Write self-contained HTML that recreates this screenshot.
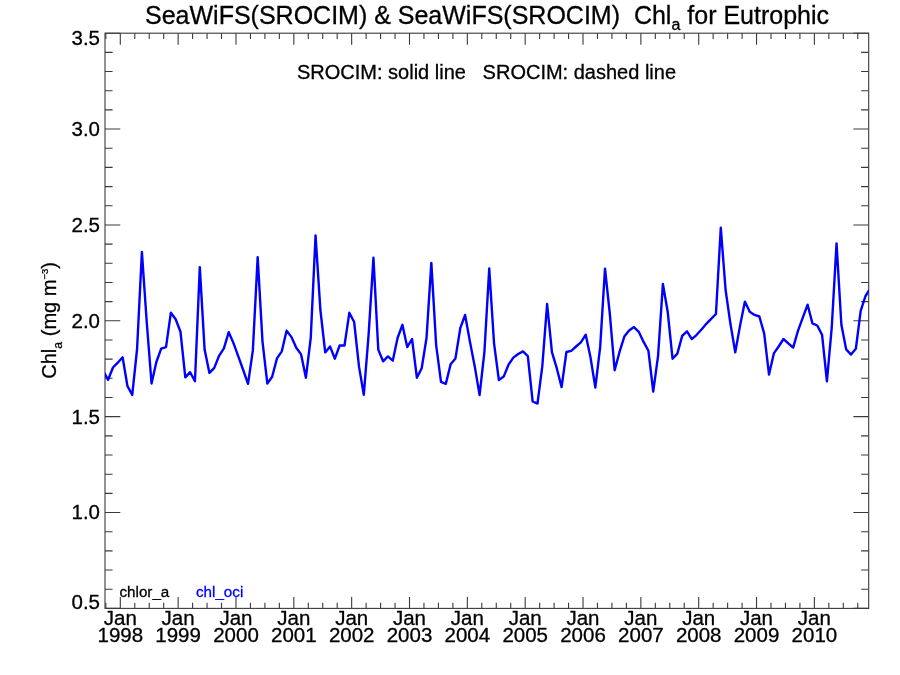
<!DOCTYPE html>
<html><head><meta charset="utf-8"><style>
html,body{margin:0;padding:0;background:#fff;width:900px;height:675px;overflow:hidden}
svg{display:block;will-change:transform}
text{stroke:#000} text.b{stroke:#00f;fill:#00f}
</style></head><body>
<svg width="900" height="675" viewBox="0 0 900 675">
<rect width="900" height="675" fill="#fff"/>
<rect x="105.0" y="33.2" width="763.70" height="575.20" fill="none" stroke="#3a3a3a" stroke-width="1.1"/>
<path d="M105.0,608.40h15.3M868.7,608.40h-15.3M105.0,589.23h7.6M868.7,589.23h-7.6M105.0,570.05h7.6M868.7,570.05h-7.6M105.0,550.88h7.6M868.7,550.88h-7.6M105.0,531.71h7.6M868.7,531.71h-7.6M105.0,512.53h15.3M868.7,512.53h-15.3M105.0,493.36h7.6M868.7,493.36h-7.6M105.0,474.19h7.6M868.7,474.19h-7.6M105.0,455.01h7.6M868.7,455.01h-7.6M105.0,435.84h7.6M868.7,435.84h-7.6M105.0,416.67h15.3M868.7,416.67h-15.3M105.0,397.49h7.6M868.7,397.49h-7.6M105.0,378.32h7.6M868.7,378.32h-7.6M105.0,359.15h7.6M868.7,359.15h-7.6M105.0,339.97h7.6M868.7,339.97h-7.6M105.0,320.80h15.3M868.7,320.80h-15.3M105.0,301.63h7.6M868.7,301.63h-7.6M105.0,282.45h7.6M868.7,282.45h-7.6M105.0,263.28h7.6M868.7,263.28h-7.6M105.0,244.11h7.6M868.7,244.11h-7.6M105.0,224.93h15.3M868.7,224.93h-15.3M105.0,205.76h7.6M868.7,205.76h-7.6M105.0,186.59h7.6M868.7,186.59h-7.6M105.0,167.41h7.6M868.7,167.41h-7.6M105.0,148.24h7.6M868.7,148.24h-7.6M105.0,129.07h15.3M868.7,129.07h-15.3M105.0,109.89h7.6M868.7,109.89h-7.6M105.0,90.72h7.6M868.7,90.72h-7.6M105.0,71.55h7.6M868.7,71.55h-7.6M105.0,52.37h7.6M868.7,52.37h-7.6M105.0,33.20h15.3M868.7,33.20h-15.3M105.84,608.4v-5.75M105.84,33.2v5.75M120.30,608.4v-11.5M120.30,33.2v11.5M134.76,608.4v-5.75M134.76,33.2v5.75M149.22,608.4v-5.75M149.22,33.2v5.75M163.68,608.4v-5.75M163.68,33.2v5.75M178.14,608.4v-11.5M178.14,33.2v11.5M192.60,608.4v-5.75M192.60,33.2v5.75M207.06,608.4v-5.75M207.06,33.2v5.75M221.52,608.4v-5.75M221.52,33.2v5.75M235.98,608.4v-11.5M235.98,33.2v11.5M250.44,608.4v-5.75M250.44,33.2v5.75M264.90,608.4v-5.75M264.90,33.2v5.75M279.36,608.4v-5.75M279.36,33.2v5.75M293.82,608.4v-11.5M293.82,33.2v11.5M308.28,608.4v-5.75M308.28,33.2v5.75M322.74,608.4v-5.75M322.74,33.2v5.75M337.20,608.4v-5.75M337.20,33.2v5.75M351.66,608.4v-11.5M351.66,33.2v11.5M366.12,608.4v-5.75M366.12,33.2v5.75M380.58,608.4v-5.75M380.58,33.2v5.75M395.04,608.4v-5.75M395.04,33.2v5.75M409.50,608.4v-11.5M409.50,33.2v11.5M423.96,608.4v-5.75M423.96,33.2v5.75M438.42,608.4v-5.75M438.42,33.2v5.75M452.88,608.4v-5.75M452.88,33.2v5.75M467.34,608.4v-11.5M467.34,33.2v11.5M481.80,608.4v-5.75M481.80,33.2v5.75M496.26,608.4v-5.75M496.26,33.2v5.75M510.72,608.4v-5.75M510.72,33.2v5.75M525.18,608.4v-11.5M525.18,33.2v11.5M539.64,608.4v-5.75M539.64,33.2v5.75M554.10,608.4v-5.75M554.10,33.2v5.75M568.56,608.4v-5.75M568.56,33.2v5.75M583.02,608.4v-11.5M583.02,33.2v11.5M597.48,608.4v-5.75M597.48,33.2v5.75M611.94,608.4v-5.75M611.94,33.2v5.75M626.40,608.4v-5.75M626.40,33.2v5.75M640.86,608.4v-11.5M640.86,33.2v11.5M655.32,608.4v-5.75M655.32,33.2v5.75M669.78,608.4v-5.75M669.78,33.2v5.75M684.24,608.4v-5.75M684.24,33.2v5.75M698.70,608.4v-11.5M698.70,33.2v11.5M713.16,608.4v-5.75M713.16,33.2v5.75M727.62,608.4v-5.75M727.62,33.2v5.75M742.08,608.4v-5.75M742.08,33.2v5.75M756.54,608.4v-11.5M756.54,33.2v11.5M771.00,608.4v-5.75M771.00,33.2v5.75M785.46,608.4v-5.75M785.46,33.2v5.75M799.92,608.4v-5.75M799.92,33.2v5.75M814.38,608.4v-11.5M814.38,33.2v11.5M828.84,608.4v-5.75M828.84,33.2v5.75M843.30,608.4v-5.75M843.30,33.2v5.75M857.76,608.4v-5.75M857.76,33.2v5.75" fill="none" stroke="#3a3a3a" stroke-width="1.1"/>
<clipPath id="c"><rect x="105.0" y="33.2" width="763.70" height="575.20"/></clipPath>
<polyline clip-path="url(#c)" points="103.31,371.30 108.13,379.80 112.95,367.50 117.78,362.70 122.60,357.30 127.43,386.00 132.25,394.90 137.07,349.00 141.90,252.00 146.72,322.00 151.55,383.50 156.37,362.00 161.19,348.70 166.02,347.20 170.84,312.80 175.67,319.30 180.49,331.80 185.31,377.30 190.14,372.20 194.96,381.20 199.79,267.10 204.61,349.60 209.43,372.90 214.26,367.90 219.08,355.80 223.91,348.30 228.73,332.20 233.55,343.30 238.38,356.70 243.20,370.00 248.03,383.80 252.85,350.40 257.67,257.10 262.50,341.60 267.32,383.50 272.15,376.80 276.97,358.40 281.79,351.30 286.62,330.60 291.44,337.10 296.27,347.80 301.09,354.40 305.91,377.70 310.74,338.00 315.56,235.40 320.39,310.00 325.21,352.40 330.03,346.40 334.86,358.70 339.68,345.50 344.51,345.50 349.33,312.80 354.15,322.00 358.98,366.40 363.80,394.70 368.63,334.40 373.45,257.80 378.27,349.60 383.10,361.30 387.92,356.40 392.75,360.70 397.57,338.00 402.39,324.80 407.22,347.10 412.04,339.00 416.87,377.70 421.69,368.20 426.51,338.00 431.34,262.90 436.16,345.10 440.99,381.90 445.81,383.90 450.63,364.30 455.46,358.40 460.28,328.20 465.11,315.00 469.93,341.60 474.75,366.40 479.58,395.10 484.40,352.20 489.23,268.50 494.05,343.30 498.87,380.00 503.70,376.60 508.52,364.70 513.35,357.60 518.17,354.00 522.99,351.40 527.82,356.10 532.64,401.50 537.47,403.60 542.29,366.40 547.11,304.00 551.94,352.20 556.76,368.20 561.59,387.10 566.41,352.00 571.23,350.80 576.06,346.50 580.88,342.40 585.71,334.70 590.53,357.60 595.35,387.60 600.18,346.90 605.00,268.70 609.83,314.00 614.65,370.20 619.47,352.20 624.30,336.60 629.12,330.50 633.95,327.10 638.77,331.80 643.59,341.90 648.42,350.80 653.24,391.50 658.07,355.80 662.89,284.00 667.71,311.80 672.54,358.70 677.36,353.60 682.19,335.90 687.01,331.30 691.83,339.10 696.66,334.80 701.48,329.50 706.31,323.80 711.13,318.80 715.95,314.00 720.78,227.70 725.60,290.00 730.43,323.80 735.25,352.40 740.07,325.60 744.90,301.60 749.72,311.70 754.55,314.90 759.37,316.50 764.19,333.60 769.02,374.60 773.84,353.40 778.67,346.50 783.49,339.00 788.31,343.30 793.14,347.60 797.96,330.90 802.79,317.60 807.61,304.70 812.43,323.40 817.26,325.50 822.08,334.90 826.91,381.40 831.73,327.70 836.55,243.40 841.38,324.80 846.20,349.40 851.03,354.60 855.85,348.80 860.67,310.80 865.50,296.00 870.32,288.50" fill="none" stroke="#0000ff" stroke-width="2.4" stroke-linejoin="round"/>
<text x="100" y="608.7" font-family="'Liberation Sans', sans-serif" stroke-width="0.3" font-size="20.5" text-anchor="end">0.5</text>
<text x="100" y="519.3" font-family="'Liberation Sans', sans-serif" stroke-width="0.3" font-size="20.5" text-anchor="end">1.0</text>
<text x="100" y="423.5" font-family="'Liberation Sans', sans-serif" stroke-width="0.3" font-size="20.5" text-anchor="end">1.5</text>
<text x="100" y="327.6" font-family="'Liberation Sans', sans-serif" stroke-width="0.3" font-size="20.5" text-anchor="end">2.0</text>
<text x="100" y="231.7" font-family="'Liberation Sans', sans-serif" stroke-width="0.3" font-size="20.5" text-anchor="end">2.5</text>
<text x="100" y="135.9" font-family="'Liberation Sans', sans-serif" stroke-width="0.3" font-size="20.5" text-anchor="end">3.0</text>
<text x="100" y="45.0" font-family="'Liberation Sans', sans-serif" stroke-width="0.3" font-size="20.5" text-anchor="end">3.5</text>
<text x="120.3" y="624.5" font-family="'Liberation Sans', sans-serif" stroke-width="0.3" font-size="20.5" text-anchor="middle">Jan</text>
<text x="120.3" y="641.5" font-family="'Liberation Sans', sans-serif" stroke-width="0.3" font-size="20.5" text-anchor="middle">1998</text>
<text x="178.1" y="624.5" font-family="'Liberation Sans', sans-serif" stroke-width="0.3" font-size="20.5" text-anchor="middle">Jan</text>
<text x="178.1" y="641.5" font-family="'Liberation Sans', sans-serif" stroke-width="0.3" font-size="20.5" text-anchor="middle">1999</text>
<text x="236.0" y="624.5" font-family="'Liberation Sans', sans-serif" stroke-width="0.3" font-size="20.5" text-anchor="middle">Jan</text>
<text x="236.0" y="641.5" font-family="'Liberation Sans', sans-serif" stroke-width="0.3" font-size="20.5" text-anchor="middle">2000</text>
<text x="293.8" y="624.5" font-family="'Liberation Sans', sans-serif" stroke-width="0.3" font-size="20.5" text-anchor="middle">Jan</text>
<text x="293.8" y="641.5" font-family="'Liberation Sans', sans-serif" stroke-width="0.3" font-size="20.5" text-anchor="middle">2001</text>
<text x="351.7" y="624.5" font-family="'Liberation Sans', sans-serif" stroke-width="0.3" font-size="20.5" text-anchor="middle">Jan</text>
<text x="351.7" y="641.5" font-family="'Liberation Sans', sans-serif" stroke-width="0.3" font-size="20.5" text-anchor="middle">2002</text>
<text x="409.5" y="624.5" font-family="'Liberation Sans', sans-serif" stroke-width="0.3" font-size="20.5" text-anchor="middle">Jan</text>
<text x="409.5" y="641.5" font-family="'Liberation Sans', sans-serif" stroke-width="0.3" font-size="20.5" text-anchor="middle">2003</text>
<text x="467.3" y="624.5" font-family="'Liberation Sans', sans-serif" stroke-width="0.3" font-size="20.5" text-anchor="middle">Jan</text>
<text x="467.3" y="641.5" font-family="'Liberation Sans', sans-serif" stroke-width="0.3" font-size="20.5" text-anchor="middle">2004</text>
<text x="525.2" y="624.5" font-family="'Liberation Sans', sans-serif" stroke-width="0.3" font-size="20.5" text-anchor="middle">Jan</text>
<text x="525.2" y="641.5" font-family="'Liberation Sans', sans-serif" stroke-width="0.3" font-size="20.5" text-anchor="middle">2005</text>
<text x="583.0" y="624.5" font-family="'Liberation Sans', sans-serif" stroke-width="0.3" font-size="20.5" text-anchor="middle">Jan</text>
<text x="583.0" y="641.5" font-family="'Liberation Sans', sans-serif" stroke-width="0.3" font-size="20.5" text-anchor="middle">2006</text>
<text x="640.9" y="624.5" font-family="'Liberation Sans', sans-serif" stroke-width="0.3" font-size="20.5" text-anchor="middle">Jan</text>
<text x="640.9" y="641.5" font-family="'Liberation Sans', sans-serif" stroke-width="0.3" font-size="20.5" text-anchor="middle">2007</text>
<text x="698.7" y="624.5" font-family="'Liberation Sans', sans-serif" stroke-width="0.3" font-size="20.5" text-anchor="middle">Jan</text>
<text x="698.7" y="641.5" font-family="'Liberation Sans', sans-serif" stroke-width="0.3" font-size="20.5" text-anchor="middle">2008</text>
<text x="756.5" y="624.5" font-family="'Liberation Sans', sans-serif" stroke-width="0.3" font-size="20.5" text-anchor="middle">Jan</text>
<text x="756.5" y="641.5" font-family="'Liberation Sans', sans-serif" stroke-width="0.3" font-size="20.5" text-anchor="middle">2009</text>
<text x="814.4" y="624.5" font-family="'Liberation Sans', sans-serif" stroke-width="0.3" font-size="20.5" text-anchor="middle">Jan</text>
<text x="814.4" y="641.5" font-family="'Liberation Sans', sans-serif" stroke-width="0.3" font-size="20.5" text-anchor="middle">2010</text>
<text x="145" y="23.5" font-family="'Liberation Sans', sans-serif" stroke-width="0.3" font-size="25" style="white-space:pre">SeaWiFS(SROCIM) &amp; SeaWiFS(SROCIM)  Chl<tspan font-size="16" dy="6">a</tspan><tspan dy="-6"> for Eutrophic</tspan></text>
<text x="297" y="79" font-family="'Liberation Sans', sans-serif" stroke-width="0.3" font-size="20" style="white-space:pre">SROCIM: solid line   SROCIM: dashed line</text>
<g transform="translate(56,378.8) rotate(-90) scale(0.98,1)"><text x="0" y="0" font-family="'Liberation Sans', sans-serif" stroke-width="0.3" font-size="20.5" style="white-space:pre">Chl<tspan font-size="12.5" dy="5.5">a</tspan><tspan dy="-5.5"> (mg m</tspan><tspan font-size="9.5" dy="-8.2">−3</tspan><tspan dy="8.2">)</tspan></text></g>
<text x="119.5" y="597" font-family="'Liberation Sans', sans-serif" stroke-width="0.3" font-size="15.2">chlor_a</text>
<text x="196" y="597" font-family="'Liberation Sans', sans-serif" stroke-width="0.3" font-size="15.2" class="b">chl_oci</text>
</svg>
</body></html>
